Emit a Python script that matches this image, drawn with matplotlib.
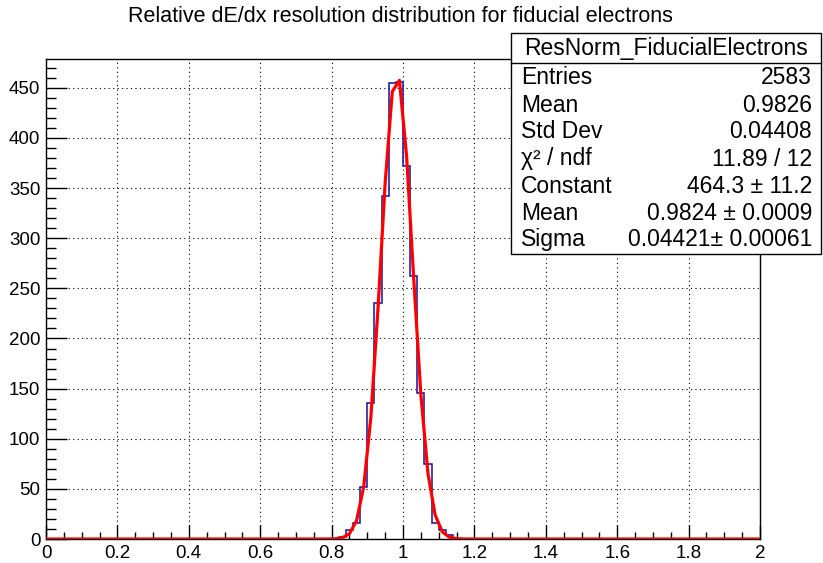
import numpy as np
import matplotlib
matplotlib.use("Agg")
import matplotlib.pyplot as plt
from matplotlib.patches import Rectangle
from matplotlib.lines import Line2D
from matplotlib.ticker import MultipleLocator

plt.rcParams['font.family'] = ['Liberation Sans', 'DejaVu Sans']

# histogram: 100 bins on [0, 2], only the peak region is filled
x_min, x_max, n_bins = 0.0, 2.0, 100
peak_first_edge = 0.82
peak_counts = [2, 9, 16, 52, 136, 235, 342, 455, 456, 372, 262, 146, 75, 16, 9, 4]

# gaussian fit parameters (from the stat box)
fit_constant = 464.3
fit_mean = 0.9824
fit_sigma = 0.04421

title = "Relative dE/dx resolution distribution for fiducial electrons"
stat_title = "ResNorm_FiducialElectrons"
stat_labels = ["Entries", "Mean", "Std Dev", "\u03c7\u00b2 / ndf", "Constant", "Mean", "Sigma"]
stat_values = ["2583", "0.9826", "0.04408", "11.89 / 12", "464.3 \u00b1 11.2",
               "0.9824 \u00b1 0.0009", "0.04421\u00b1 0.00061"]

W, H = 823, 563
edges = np.linspace(x_min, x_max, n_bins + 1)
counts = np.zeros(n_bins)
i0 = int(round((peak_first_edge - x_min) / (edges[1] - edges[0])))
counts[i0:i0 + len(peak_counts)] = peak_counts

fig = plt.figure(figsize=(W / 100, H / 100), dpi=100)
ax = fig.add_axes([46 / W, 1 - 539 / H, (760 - 46) / W, (539 - 59) / H])

ax.stairs(counts, edges, color='#1010a0', lw=1.1, zorder=3)
# fit drawn like ROOT: polyline through 100 points at bin centres
xf = 0.5 * (edges[:-1] + edges[1:])
xf = np.concatenate([[x_min], xf, [x_max]])
ax.plot(xf, fit_constant * np.exp(-0.5 * ((xf - fit_mean) / fit_sigma) ** 2),
        color='#ff0000', lw=2.3, zorder=4)

ax.set_xlim(x_min, x_max)
ax.set_ylim(0, 1.05 * counts.max())
ax.xaxis.set_major_locator(MultipleLocator(0.2))
ax.xaxis.set_minor_locator(MultipleLocator(0.05))
ax.yaxis.set_major_locator(MultipleLocator(50))
ax.yaxis.set_minor_locator(MultipleLocator(10))
ax.tick_params(which='both', direction='in', top=False, right=False, labelsize=13.5, width=1)
ax.tick_params(axis='x', which='major', length=10, pad=4)
ax.tick_params(axis='x', which='minor', length=5)
ax.tick_params(axis='y', which='major', length=15, pad=4)
ax.tick_params(axis='y', which='minor', length=7.5)
ax.xaxis.set_major_formatter(plt.FuncFormatter(lambda v, p: f"{v:g}"))
ax.grid(True, which='major', color='black', linestyle=(0, (1, 3)), lw=0.8)
for s in ax.spines.values():
    s.set_linewidth(1.0)

fig.text(400 / W, 1 - 17 / H, title, ha='center', va='center', fontsize=15.5)

# stat box
bx0, by0, bx1, by1 = 511, 33, 821, 254
fig.add_artist(Rectangle((bx0 / W, 1 - by1 / H), (bx1 - bx0) / W, (by1 - by0) / H,
                         transform=fig.transFigure, facecolor='white',
                         edgecolor='black', lw=1.0, zorder=10))
fig.add_artist(Line2D([bx0 / W, bx1 / W], [1 - 63 / H, 1 - 63 / H],
                      transform=fig.transFigure, color='black', lw=1.0, zorder=11))
fig.text((bx0 + bx1) / 2 / W, 1 - 49 / H, stat_title, ha='center', va='center',
         fontsize=16.5, zorder=12)
for k, (lab, val) in enumerate(zip(stat_labels, stat_values)):
    y = 1 - (78 + 27 * k) / H
    fig.text(521 / W, y, lab, ha='left', va='center', fontsize=16.5, zorder=12)
    fig.text(812 / W, y, val, ha='right', va='center', fontsize=16.5, zorder=12)

fig.savefig("out.png", dpi=100)
